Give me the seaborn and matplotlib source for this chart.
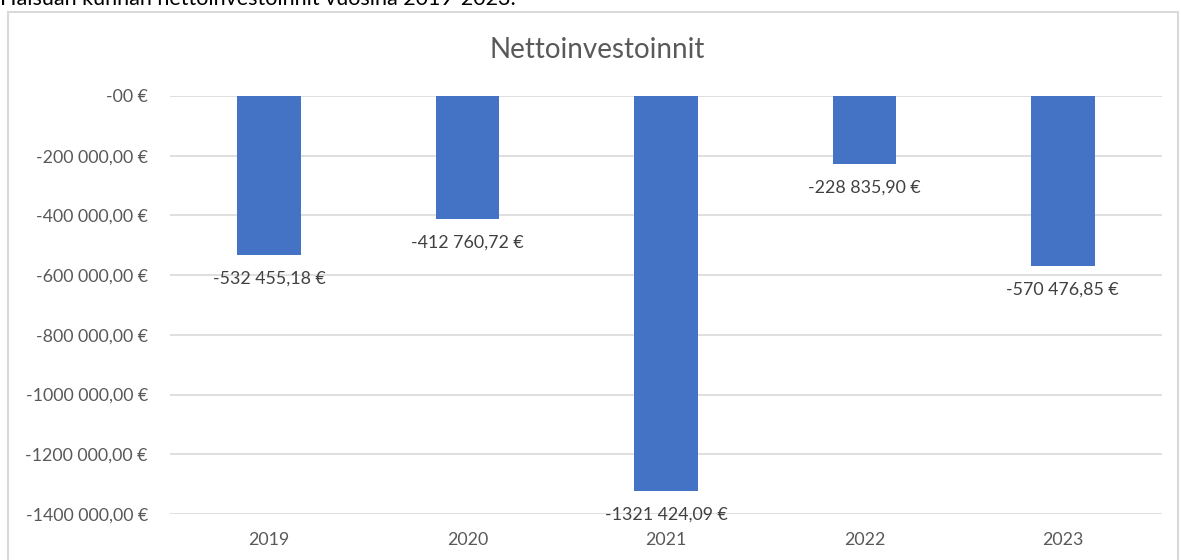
import matplotlib
matplotlib.use("Agg")
import matplotlib.pyplot as plt
import seaborn as sns
import pandas as pd
from matplotlib.patches import Rectangle

years = ["2019", "2020", "2021", "2022", "2023"]
values = [-532455.18, -412760.72, -1321424.09, -228835.90, -570476.85]
value_labels = ["-532 455,18 €", "-412 760,72 €", "-1321 424,09 €", "-228 835,90 €", "-570 476,85 €"]
yticks = [0, -200000, -400000, -600000, -800000, -1000000, -1200000, -1400000]
ytick_labels = ["-00 €", "-200 000,00 €", "-400 000,00 €", "-600 000,00 €", "-800 000,00 €",
                "-1000 000,00 €", "-1200 000,00 €", "-1400 000,00 €"]
title = "Nettoinvestoinnit"
caption = "Haisuan kunnan nettoinvestoinnit vuosina 2019-2023."

sns.set_theme(style="white")
plt.rcParams['font.family'] = ['Lato', 'DejaVu Sans']

df = pd.DataFrame({"year": years, "value": values})

fig = plt.figure(figsize=(11.81, 5.6), dpi=100)
ax = fig.add_axes([170/1181, 1-514/560, (1162-170)/1181, (514-96)/560])

sns.barplot(data=df, x="year", y="value", color="#4472C4", width=0.32, ax=ax,
            saturation=1, edgecolor="none")

ax.set_ylim(-1400000, 0)
ax.set_xlim(-0.5, len(years) - 0.5)
ax.set_yticks(yticks)
ax.set_yticklabels(ytick_labels)
ax.yaxis.grid(True, color="#D9D9D9", linewidth=1.2)
ax.set_axisbelow(True)
for s in ax.spines.values():
    s.set_visible(False)
ax.tick_params(axis="both", length=0, colors="#595959", labelsize=12.8)
ax.tick_params(axis="y", pad=16)
ax.tick_params(axis="x", pad=13)
ax.set_xlabel("")
ax.set_ylabel("")

for i, (v, lab) in enumerate(zip(values, value_labels)):
    ax.annotate(lab, xy=(i, v), xytext=(0, -17), textcoords="offset points",
                ha="center", va="center", fontsize=12.8, color="#404040")

fig.text(597/1181, 1-50/560, title, ha="center", va="center", fontsize=20, color="#595959")
fig.text(0, 1+1/560, caption, ha="left", va="center", fontsize=15.5, color="#000000")

fig.patches.append(Rectangle((8/1181, -0.05), (1178-8)/1181, 1-12/560 + 0.05,
                             transform=fig.transFigure, fill=False,
                             edgecolor="#D9D9D9", linewidth=1.5))

fig.savefig("out.png", dpi=100, facecolor="white")
